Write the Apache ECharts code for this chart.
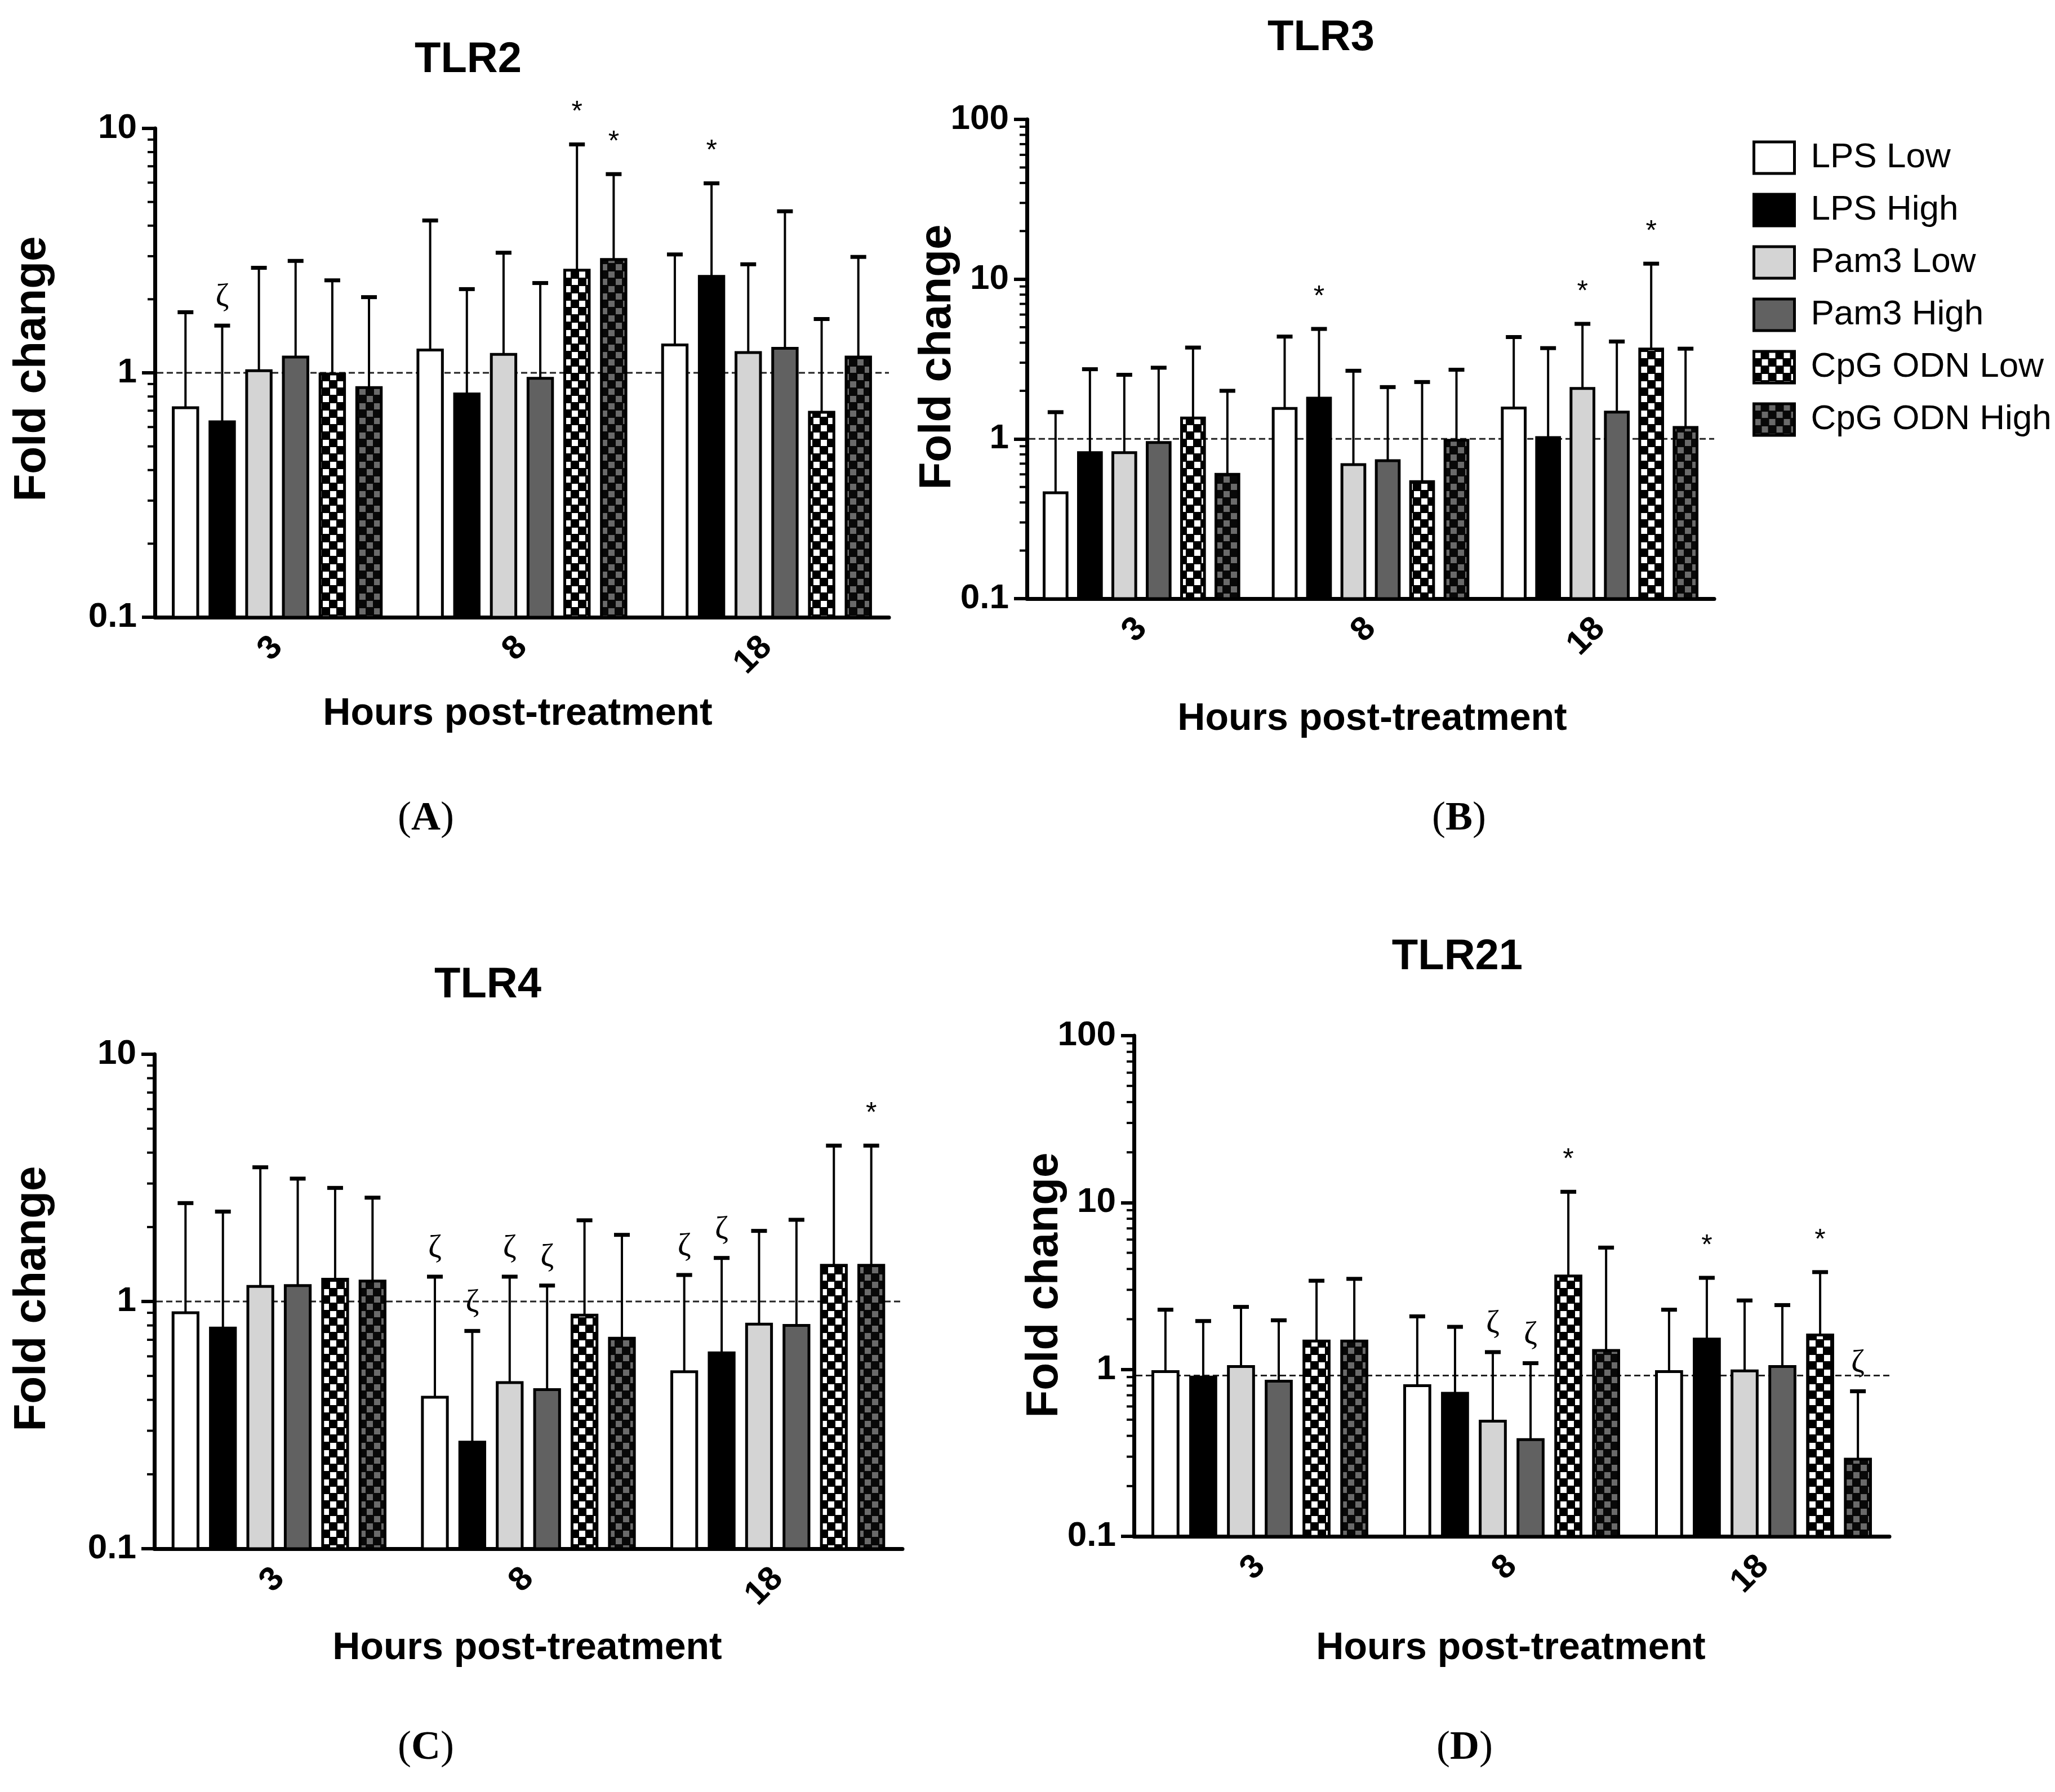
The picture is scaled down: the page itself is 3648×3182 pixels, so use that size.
<!DOCTYPE html>
<html><head><meta charset="utf-8">
<script src="https://cdn.jsdelivr.net/npm/echarts@6/dist/echarts.min.js"></script>
<style>html,body{margin:0;padding:0;background:#fff}#c{width:3648px;height:3182px}</style>
</head><body><div id="c"></div>
<script>
// ---------- data ----------
const categories = ['3', '8', '18'];
const treatments = ['LPS Low', 'LPS High', 'Pam3 Low', 'Pam3 High', 'CpG ODN Low', 'CpG ODN High'];
const yTicksTen = [0.1, 1, 10];
const yTicksHundred = [0.1, 1, 10, 100];

// rows = treatments, columns = hours (3, 8, 18)
const tlr2Mean = [[0.72, 1.24, 1.30], [0.63, 0.82, 2.48], [1.02, 1.19, 1.21], [1.16, 0.95, 1.26], [0.99, 2.63, 0.69], [0.87, 2.91, 1.16]];
const tlr2Upper = [[1.77, 4.2, 3.05], [1.56, 2.2, 5.96], [2.69, 3.1, 2.78], [2.87, 2.33, 4.58], [2.39, 8.6, 1.66], [2.04, 6.5, 2.98]];
const tlr2Marks = [[1, 0, 'ζ'], [4, 1, '*'], [5, 1, '*'], [1, 2, '*']];

const tlr3Mean = [[0.46, 1.55, 1.56], [0.82, 1.80, 1.02], [0.82, 0.69, 2.07], [0.95, 0.73, 1.47], [1.35, 0.54, 3.65], [0.60, 0.98, 1.18]];
const tlr3Upper = [[1.47, 4.37, 4.34], [2.73, 4.88, 3.7], [2.52, 2.67, 5.25], [2.79, 2.11, 4.07], [3.73, 2.27, 12.5], [2.0, 2.71, 3.67]];
const tlr3Marks = [[1, 1, '*'], [2, 2, '*'], [4, 2, '*']];

const tlr4Mean = [[0.90, 0.41, 0.52], [0.78, 0.27, 0.62], [1.15, 0.47, 0.81], [1.16, 0.44, 0.80], [1.23, 0.88, 1.40], [1.21, 0.71, 1.40]];
const tlr4Upper = [[2.5, 1.26, 1.28], [2.31, 0.76, 1.50], [3.49, 1.26, 1.93], [3.14, 1.16, 2.14], [2.88, 2.13, 4.27], [2.63, 1.86, 4.27]];
const tlr4Marks = [[0, 1, 'ζ'], [1, 1, 'ζ'], [2, 1, 'ζ'], [3, 1, 'ζ'], [0, 2, 'ζ'], [1, 2, 'ζ'], [5, 2, '*']];

const tlr21Mean = [[0.97, 0.80, 0.97], [0.90, 0.72, 1.52], [1.04, 0.49, 0.98], [0.85, 0.38, 1.04], [1.48, 3.63, 1.61], [1.48, 1.30, 0.29]];
const tlr21Upper = [[2.28, 2.08, 2.28], [1.95, 1.80, 3.54], [2.37, 1.27, 2.59], [1.97, 1.09, 2.43], [3.4, 11.6, 3.83], [3.49, 5.37, 0.74]];
const tlr21Marks = [[2, 1, 'ζ'], [3, 1, 'ζ'], [4, 1, '*'], [1, 2, '*'], [4, 2, '*'], [5, 2, 'ζ']];

const baselines = [1, 1, 1, 0.92];

// ---------- styles / layout ----------
const SANS = '"Liberation Sans", Arial, sans-serif';
const SERIF = '"Liberation Serif", "Times New Roman", serif';
const BAR_W = 0.10, STEP = 0.15;

function checker(bg, fg) {
  const c = document.createElement('canvas');
  c.width = 26; c.height = 26;
  const g = c.getContext('2d');
  g.fillStyle = bg; g.fillRect(0, 0, 26, 26);
  g.fillStyle = fg; g.fillRect(1, 1, 11, 11); g.fillRect(14, 14, 11, 11);
  return { image: c, repeat: 'repeat' };
}
const fills = ['#ffffff', '#000000', '#d4d4d4', '#616161', checker('#000000', '#ffffff'), checker('#080808', '#6a6a6a')];

const panels = [
  { title: 'TLR2', letter: 'A', mean: tlr2Mean, upper: tlr2Upper, marks: tlr2Marks, ticks: yTicksTen,
    grid: { left: 275, top: 228, width: 1303, height: 868 }, titlePos: [831, 107], yLab: [58, 655], xLab: [919, 1268], letterPos: [756, 1454] },
  { title: 'TLR3', letter: 'B', mean: tlr3Mean, upper: tlr3Upper, marks: tlr3Marks, ticks: yTicksHundred,
    grid: { left: 1823, top: 212, width: 1220, height: 851 }, titlePos: [2345, 68], yLab: [1665, 634], xLab: [2436, 1277], letterPos: [2590, 1454] },
  { title: 'TLR4', letter: 'C', mean: tlr4Mean, upper: tlr4Upper, marks: tlr4Marks, ticks: yTicksTen,
    grid: { left: 274, top: 1872, width: 1328, height: 878 }, titlePos: [866, 1750], yLab: [58, 2306], xLab: [936, 2927], letterPos: [756, 3104] },
  { title: 'TLR21', letter: 'D', mean: tlr21Mean, upper: tlr21Upper, marks: tlr21Marks, ticks: yTicksHundred,
    grid: { left: 2013, top: 1839, width: 1341, height: 889 }, titlePos: [2587, 1700], yLab: [1855, 2282], xLab: [2682, 2927], letterPos: [2600, 3104] }
];

const grids = [], xAxes = [], yAxes = [], series = [], graphics = [];

panels.forEach((p, pi) => {
  const ymin = p.ticks[0], ymax = p.ticks[p.ticks.length - 1];
  grids.push(Object.assign({ containLabel: false }, p.grid));
  xAxes.push({
    type: 'category', gridIndex: pi, data: categories,
    axisLine: { lineStyle: { color: '#000', width: 7 } },
    axisTick: { alignWithLabel: true, length: 29, lineStyle: { color: '#000', width: 5 } },
    axisLabel: { rotate: 45, margin: 44, fontSize: 60, fontWeight: 'bold', color: '#000', fontFamily: SANS },
    splitLine: { show: false }
  });
  yAxes.push({
    type: 'log', logBase: 10, gridIndex: pi, min: ymin, max: ymax,
    axisLine: { show: true, lineStyle: { color: '#000', width: 7 } },
    axisTick: { show: true, length: 23, lineStyle: { color: '#000', width: 6 } },
    axisLabel: { margin: 32, fontSize: 62, fontWeight: 'bold', color: '#000', fontFamily: SANS,
      formatter: v => String(Math.round(v * 10) / 10) },
    splitLine: { show: false }
  });

  // bars
  treatments.forEach((name, si) => {
    series.push({
      type: 'custom', name, xAxisIndex: pi, yAxisIndex: pi, z: 3,
      data: p.mean[si].map((v, ci) => [ci, v]),
      itemStyle: { color: fills[si], borderColor: '#000', borderWidth: 5 },
      renderItem: (params, api) => {
        const ci = api.value(0), v = api.value(1);
        const band = params.coordSys.width / categories.length;
        const top = api.coord([ci, v]);
        const bottom = api.coord([ci, ymin])[1];
        const w = band * BAR_W;
        const x = top[0] + (si - 2.5) * band * STEP - w / 2;
        return { type: 'rect', shape: { x, y: top[1], width: w, height: bottom - top[1] },
          style: { fill: fills[si], stroke: '#000', lineWidth: 5 } };
      }
    });
  });

  // error bars + significance marks
  const errData = [];
  p.upper.forEach((row, si) => row.forEach((u, ci) => errData.push([ci, si, p.mean[si][ci], u])));
  series.push({
    type: 'custom', name: 'err' + pi, xAxisIndex: pi, yAxisIndex: pi, z: 4, data: errData,
    renderItem: (params, api) => {
      const ci = api.value(0), si = api.value(1), m = api.value(2), u = api.value(3);
      const band = params.coordSys.width / categories.length;
      const pm = api.coord([ci, m]), pu = api.coord([ci, u]);
      const x = pm[0] + (si - 2.5) * band * STEP;
      const ch = [
        { type: 'line', shape: { x1: x, y1: pm[1], x2: x, y2: pu[1] }, style: { stroke: '#000', lineWidth: 4 } },
        { type: 'line', shape: { x1: x - 14, y1: pu[1], x2: x + 14, y2: pu[1] }, style: { stroke: '#000', lineWidth: 7 } }
      ];
      const mk = p.marks.find(k => k[0] === si && k[1] === ci);
      if (mk) {
        const star = mk[2] === '*';
        ch.push({ type: 'text', x, y: pu[1] - (star ? 56 : 50),
          style: { text: mk[2], fill: '#000', font: star ? ('50px ' + SANS) : ('58px ' + SERIF),
            align: 'center', verticalAlign: 'middle', textAlign: 'center', textVerticalAlign: 'middle' } });
      }
      return { type: 'group', children: ch };
    }
  });

  // dashed baseline
  series.push({
    type: 'custom', name: 'base' + pi, xAxisIndex: pi, yAxisIndex: pi, z: 2, data: [[0, baselines[pi]]],
    renderItem: (params, api) => {
      const cs = params.coordSys;
      const y = api.coord([0, api.value(1)])[1];
      return { type: 'line', shape: { x1: cs.x + 4, y1: y, x2: cs.x + cs.width, y2: y },
        style: { stroke: '#222', lineWidth: 3, lineDash: [11, 6] } };
    }
  });

  // minor log ticks
  const minor = [];
  p.ticks.slice(0, -1).forEach(d => { for (let k = 2; k <= 9; k++) minor.push([0, k * d]); });
  series.push({
    type: 'custom', name: 'minor' + pi, xAxisIndex: pi, yAxisIndex: pi, z: 2, data: minor,
    renderItem: (params, api) => {
      const cs = params.coordSys;
      const y = api.coord([0, api.value(1)])[1];
      return { type: 'line', shape: { x1: cs.x - 13, y1: y, x2: cs.x, y2: y }, style: { stroke: '#000', lineWidth: 4 } };
    }
  });

  // texts
  const ctr = { align: 'center', verticalAlign: 'middle', textAlign: 'center', textVerticalAlign: 'middle', fill: '#000' };
  graphics.push({ type: 'text', x: p.titlePos[0], y: p.titlePos[1], style: Object.assign({ text: p.title, font: 'bold 76px ' + SANS }, ctr) });
  graphics.push({ type: 'text', x: p.yLab[0], y: p.yLab[1], rotation: Math.PI / 2, style: Object.assign({ text: 'Fold change', font: 'bold 80px ' + SANS }, ctr) });
  graphics.push({ type: 'text', x: p.xLab[0], y: p.xLab[1], style: Object.assign({ text: 'Hours post-treatment', font: 'bold 68px ' + SANS }, ctr) });
  graphics.push({ type: 'text', x: p.letterPos[0], y: p.letterPos[1], style: Object.assign({
    text: '{n|(}{b|' + p.letter + '}{n|)}',
    rich: { n: { fontSize: 72, fontFamily: SERIF, fill: '#000' }, b: { fontSize: 72, fontFamily: SERIF, fontWeight: 'bold', fill: '#000' } }
  }, ctr) });
});

const chart = echarts.init(document.getElementById('c'), null, { renderer: 'canvas' });
chart.setOption({
  backgroundColor: '#ffffff',
  animation: false,
  grid: grids, xAxis: xAxes, yAxis: yAxes, series,
  legend: {
    orient: 'vertical', left: 3106, top: 244, itemWidth: 72, itemHeight: 56, itemGap: 31,
    selectedMode: false,
    textStyle: { fontSize: 62, fontFamily: SANS, color: '#000', padding: [0, 0, 0, 24] },
    data: treatments.map((n, i) => ({ name: n, icon: 'rect', itemStyle: { color: fills[i], borderColor: '#000', borderWidth: 5 } }))
  },
  graphic: graphics
});
</script></body></html>
